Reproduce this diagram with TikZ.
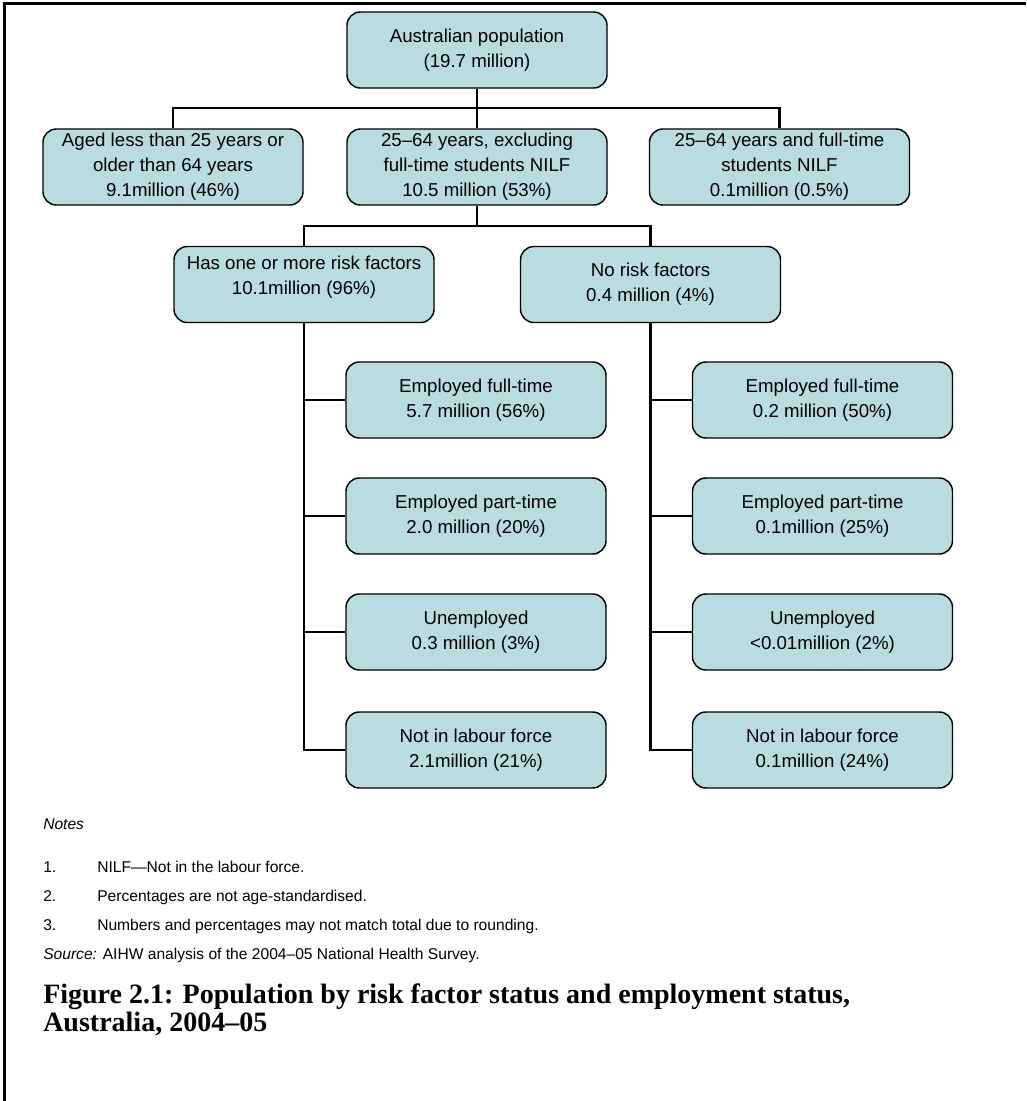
\documentclass[tikz,border=0pt]{standalone}
\usepackage{fontspec}
\setmainfont{Liberation Sans}
\newfontfamily\capfont{Liberation Serif}
\usetikzlibrary{positioning}
\definecolor{boxfill}{RGB}{184,220,224}

\begin{document}
\begin{tikzpicture}[x=0.75pt, y=-0.75pt,
    box/.style={rectangle, draw=black, line width=1.1pt, fill=boxfill,
        minimum width=195pt, minimum height=57pt, align=center,
        font=\fontsize{14}{18.75}\selectfont, rounded corners=10pt, inner sep=2pt},
    link/.style={line width=1.8pt},
    note/.style={anchor=base west, inner sep=0pt, font=\fontsize{11.7}{14}\selectfont},
    capline/.style={anchor=base west, inner sep=0pt, font=\capfont\bfseries\fontsize{21}{24}\selectfont}
]
    \useasboundingbox (0,0) rectangle (1026,1101);
    \draw[line width=2.25pt] (4,1101) -- (4,3) -- (1026,3);

    % top levels
    \node[box] (pop) at (477,50) {Australian population\\(19.7 million)};
    \node[box] (young) at (173,167) {Aged less than 25 years or\\older than 64 years\\9.1million (46\%)};
    \node[box] (core) at (477,167) {25–64 years, excluding\\full-time students NILF\\10.5 million (53\%)};
    \node[box] (stud) at (779.5,167) {25–64 years and full-time\\students NILF\\0.1million (0.5\%)};
    \node[box] (risk) at (304,284.5) {Has one or more risk factors\\10.1million (96\%)\\[-5pt]\mbox{}};
    \node[box] (norisk) at (650.5,284.5) {No risk factors\\0.4 million (4\%)};

    % employment status
    \node[box] (rft) at (476,400) {Employed full-time\\5.7 million (56\%)};
    \node[box] (rpt) at (476,516) {Employed part-time\\2.0 million (20\%)};
    \node[box] (run) at (476,632) {Unemployed\\0.3 million (3\%)};
    \node[box] (rnl) at (476,750) {Not in labour force\\2.1million (21\%)};
    \node[box] (nft) at (822.5,400) {Employed full-time\\0.2 million (50\%)};
    \node[box] (npt) at (822.5,516) {Employed part-time\\0.1million (25\%)};
    \node[box] (nun) at (822.5,632) {Unemployed\\<0.01million (2\%)};
    \node[box] (nnl) at (822.5,750) {Not in labour force\\0.1million (24\%)};

    % connectors
    \coordinate (split1) at (477,108);
    \coordinate (split2) at (477,226);
    \draw[link] (pop) -- (split1);
    \draw[link] (young.north) |- (split1) -| (stud.north);
    \draw[link] (split1) -- (core);
    \draw[link] (core) -- (split2);
    \draw[link] (risk.north) |- (split2) -| (norisk.north);
    \foreach \b in {rft,rpt,run,rnl} \draw[link] (risk.south) |- (\b.west);
    \foreach \b in {nft,npt,nun,nnl} \draw[link] (norisk.south) |- (\b.west);

    % notes
    \node[note, font=\fontsize{11.7}{14}\selectfont\itshape] (notes) at (43,829) {Notes};
    \node[note] (n1) at (43,872) {1.};
    \node[note] (n2) at (43,901) {2.};
    \node[note] (n3) at (43,930) {3.};
    \node[note] (t1) at (97,872) {NILF—Not in the labour force.};
    \node[note] (t2) at (97,901) {Percentages are not age-standardised.};
    \node[note] (t3) at (97,930) {Numbers and percentages may not match total due to rounding.};
    \node[note] (src) at (43,959) {\textit{Source:} AIHW analysis of the 2004–05 National Health Survey.};
    \node[capline] (cap1) at (43,1003) {Figure 2.1: Population by risk factor status and employment status,};
    \node[capline] (cap2) at (43,1031) {Australia, 2004–05};
\end{tikzpicture}
\end{document}
